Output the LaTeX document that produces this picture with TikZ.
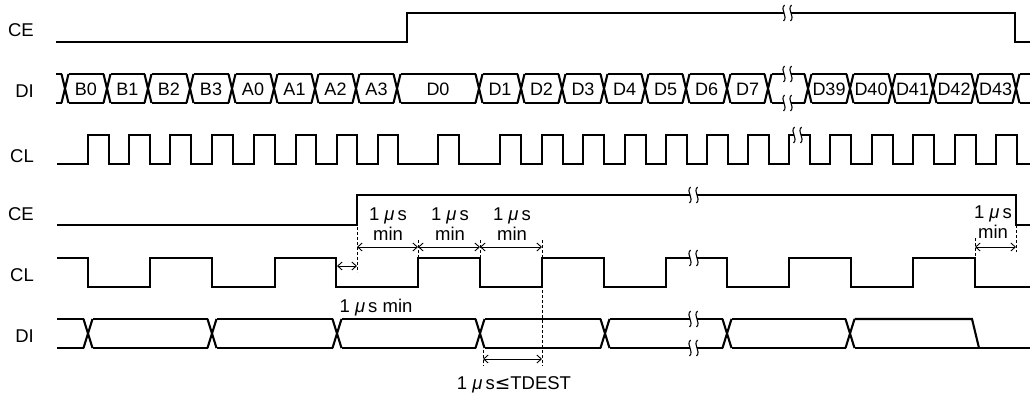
\documentclass[tikz,border=0pt]{standalone}
\usepackage{fontspec}
\setmainfont{Liberation Sans}
\newfontfamily\symfont{DejaVu Sans}
\usetikzlibrary{arrows.meta}
\newcommand{\tbrk}[2]{%
  \fill[white] ({#1},{#2-2.5}) rectangle ({#1+7},{#2+2.5});
  \draw[brk] ({#1+0.5},{#2-8}) .. controls ({#1-4.5},{#2-3}) and ({#1+4.5},{#2+3}) .. ({#1-0.5},{#2+8});
  \draw[brk] ({#1+7.5},{#2-8}) .. controls ({#1+2.5},{#2-3}) and ({#1+11.5},{#2+3}) .. ({#1+6.5},{#2+8});
}
\begin{document}
\begin{tikzpicture}[x=1pt,y=-1pt,
  sig/.style={line width=2.1pt, line join=miter, line cap=butt},
  brk/.style={line width=1.1pt},
  dimarrow/.style={line width=0.9pt,{Straight Barb[length=4.5pt,width=8pt]}-{Straight Barb[length=4.5pt,width=8pt]}},
  guide/.style={line width=0.9pt,dash pattern=on 3pt off 2pt},
  sname/.style={anchor=base east,inner sep=0pt,font=\fontsize{18.5}{18.5}\selectfont},
  val/.style={anchor=base,inner sep=0pt,font=\fontsize{18}{18}\selectfont},
  note/.style={anchor=base,inner sep=0pt,font=\fontsize{18.5}{18.5}\selectfont}]
\useasboundingbox (0,0) rectangle (1030,396);

% ---------- signal names ----------
\node[sname] (ce1) at (34,37) {CE};
\node[sname] (di1) at (34,97) {DI};
\node[sname] (cl1) at (34,162) {CL};
\node[sname] (ce2) at (34,220) {CE};
\node[sname] (cl2) at (34,281) {CL};
\node[sname] (di2) at (34,342) {DI};

% ---------- top CE ----------
\draw[sig] (56,42) -- (407,42) -- (407,13) -- (1015,13) -- (1015,42) -- (1030,42);
\tbrk{784}{13}

% ---------- top DI bus ----------
\draw[sig] (56,74) -- (61.5,74) (56,103) -- (61.5,103);
\foreach \c in {65,107,148,190,232,274,315,356,397,479,521,562,604,645,686,727,768,808,850,892,933,975,1016}
  \draw[sig] (\c-3.5,74) -- (\c+3.5,103) (\c-3.5,103) -- (\c+3.5,74);
\foreach \a/\b/\t in {65/107/B0,107/148/B1,148/190/B2,190/232/B3,232/274/A0,274/315/A1,315/356/A2,356/397/A3,397/479/D0,479/521/D1,521/562/D2,562/604/D3,604/645/D4,645/686/D5,686/727/D6,727/768/D7,808/850/D39,850/892/D40,892/933/D41,933/975/D42,975/1016/D43}{
  \draw[sig] (\a+3.5,74) -- (\b-3.5,74) (\a+3.5,103) -- (\b-3.5,103);
  \node[val] (v-\t) at ({(\a+\b)/2},95.5) {\t};
}
\draw[sig] (771.5,74) -- (804.5,74) (771.5,103) -- (804.5,103);
\draw[sig] (1019.5,74) -- (1030,74) (1019.5,103) -- (1030,103);
\tbrk{784}{74}
\tbrk{784}{103}

% ---------- top CL ----------
\draw[sig] (57,164)
  \foreach \r/\f in {88/109,129/150,170/191,212/233,254/275,296/316,337/357,378/398,438/459,500/521,542/563,583/604,625/646,666/687,707/728,748/769,789/810,830/851,872/893,913/934,955/976,996/1017}
  { -- (\r,164) -- (\r,135) -- (\f,135) -- (\f,164) } -- (1030,164);
\tbrk{794}{135}

% ---------- bottom CE ----------
\draw[sig] (57,225) -- (357,225) -- (357,195) -- (1016,195) -- (1016,225) -- (1030,225);
\tbrk{690}{195}

% ---------- bottom CL ----------
\draw[sig] (57,258) -- (88,258) -- (88,287) -- (150,287) -- (150,258) -- (212,258) -- (212,287)
  -- (275,287) -- (275,258) -- (336,258) -- (336,287) -- (418,287) -- (418,258) -- (480,258)
  -- (480,287) -- (542,287) -- (542,258) -- (604,258) -- (604,287) -- (666,287) -- (666,258)
  -- (727,258) -- (727,287) -- (789,287) -- (789,258) -- (851,258) -- (851,287) -- (913,287)
  -- (913,258) -- (975,258) -- (975,287) -- (1030,287);
\tbrk{690}{258}

% ---------- bottom DI ----------
\draw[sig] (57,319) -- (83.5,319) (57,348) -- (83.5,348);
\foreach \c in {88,212,337,480,605,727,850}
  \draw[sig] (\c-4.5,319) -- (\c+4.5,348) (\c-4.5,348) -- (\c+4.5,319);
\foreach \a/\b in {88/212,212/337,337/480,480/605,605/727,727/850}
  \draw[sig] (\a+4.5,319) -- (\b-4.5,319) (\a+4.5,348) -- (\b-4.5,348);
\draw[sig] (854.5,319) -- (972,319) -- (979,348);
\draw[sig] (854.5,348) -- (1030,348);
\tbrk{690}{319}
\tbrk{690}{348}

% ---------- timing annotations ----------
\coordinate (g1t) at (357,227); \coordinate (g1b) at (357,272);
\coordinate (g2t) at (418,240); \coordinate (g2b) at (418,258);
\coordinate (g3t) at (480,240); \coordinate (g3b) at (480,258);
\coordinate (g4t) at (542,240); \coordinate (g4b) at (542,366);
\coordinate (g5t) at (483,350); \coordinate (g5b) at (483,366);
\coordinate (g6t) at (975,238); \coordinate (g6b) at (975,258);
\coordinate (g7t) at (1016,225); \coordinate (g7b) at (1016,252);
\foreach \i in {1,...,7} \draw[guide] (g\i t) -- (g\i b);

\coordinate (a0l) at (337,266); \coordinate (a0r) at (357,266);
\coordinate (a1l) at (357,247); \coordinate (a1r) at (418,247);
\coordinate (a2l) at (418,247); \coordinate (a2r) at (480,247);
\coordinate (a3l) at (480,247); \coordinate (a3r) at (542,247);
\coordinate (a4l) at (483,359); \coordinate (a4r) at (542,359);
\coordinate (a5l) at (975,247); \coordinate (a5r) at (1016,247);
\foreach \i in {0,...,5} \draw[dimarrow] (a\i l) -- (a\i r);

\node[note] (t1a) at (388,220) {1 \textit{μ}\,s};
\node[note] (t1b) at (388,240) {min};
\node[note] (t2a) at (450,220) {1 \textit{μ}\,s};
\node[note] (t2b) at (450,240) {min};
\node[note] (t3a) at (512,220) {1 \textit{μ}\,s};
\node[note] (t3b) at (512,240) {min};
\node[note] (t4a) at (993,218) {1 \textit{μ}\,s};
\node[note] (t4b) at (993,238) {min};
\node[note] (t5)  at (376,312) {1 \textit{μ}\,s min};
\node[note] (t6)  at (514,389) {1 \textit{μ}\,s{\symfont ≤}TDEST};
\end{tikzpicture}
\end{document}
